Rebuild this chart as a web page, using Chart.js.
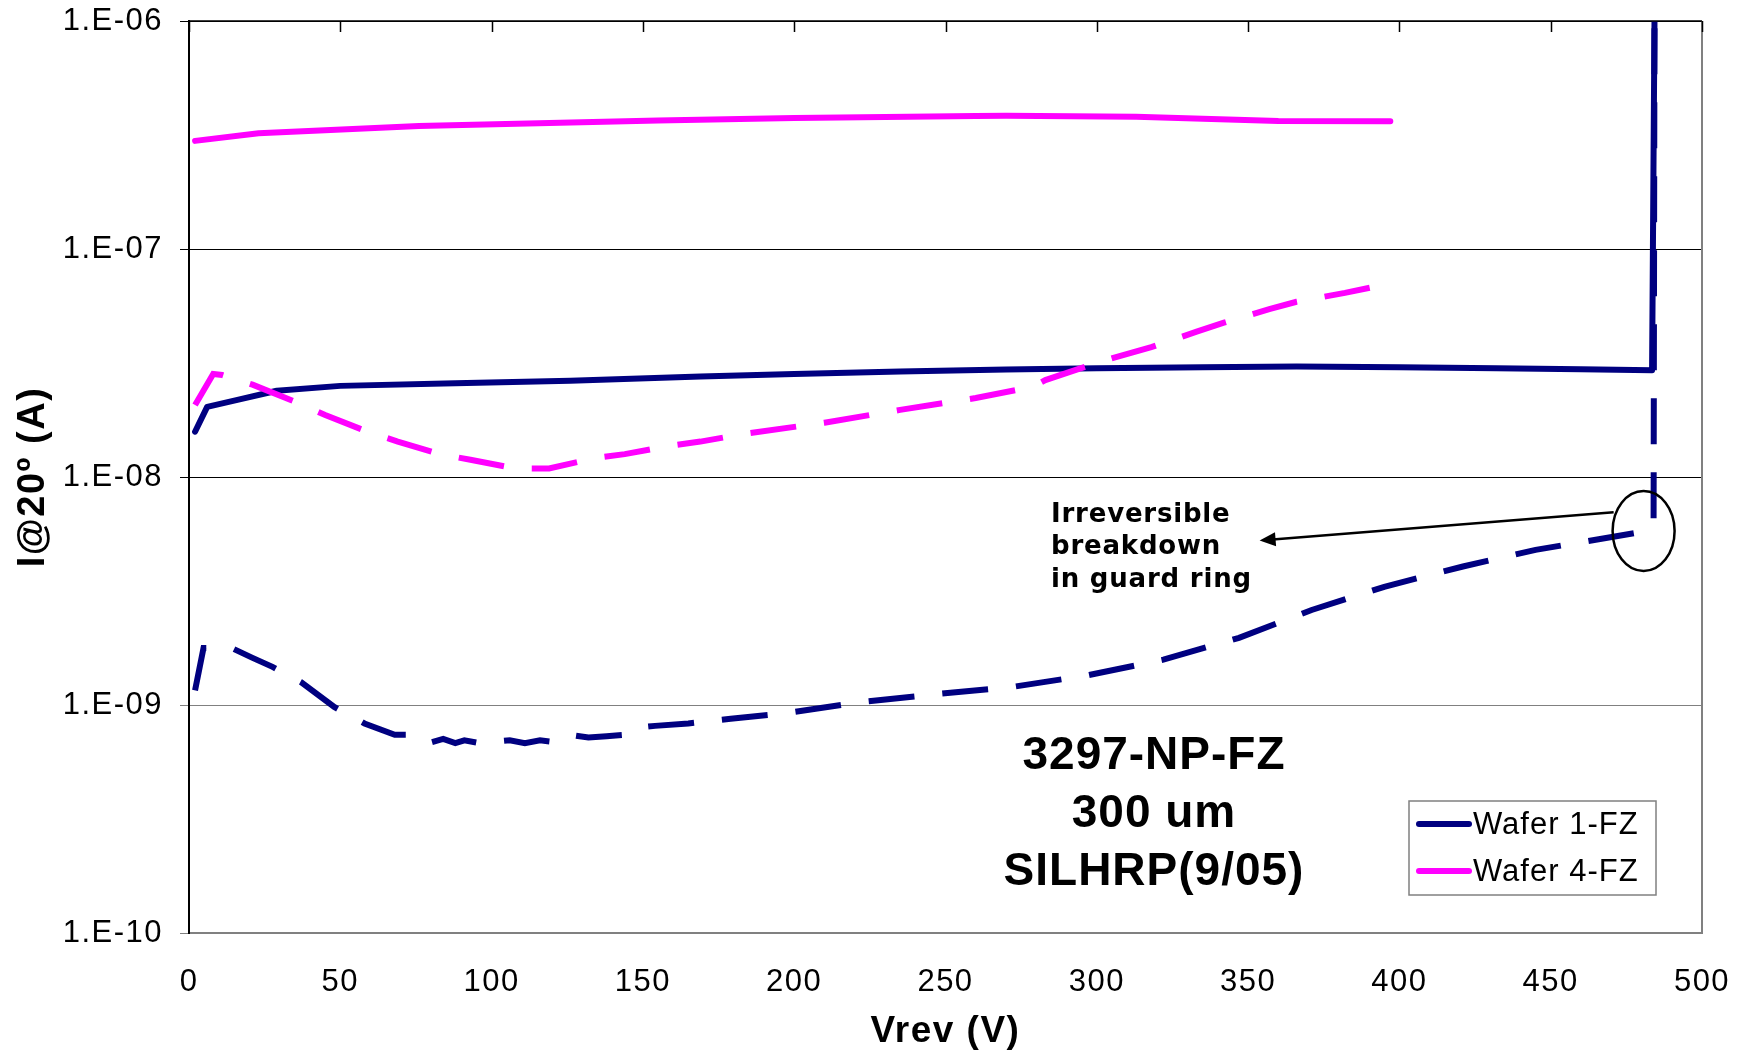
<!DOCTYPE html>
<html>
<head>
<meta charset="utf-8">
<title>3297-NP-FZ IV</title>
<script src="https://cdn.jsdelivr.net/npm/chart.js"></script>
<style>
  html, body { margin: 0; padding: 0; background: #fff; }
  canvas { display: block; }
</style>
</head>
<body>
<canvas id="ivChart" width="1742" height="1054"></canvas>
<script>

// data (V in volts, I in amps)

var wafer1V = [2, 6, 16, 29, 50, 88, 126, 169, 200, 235, 270, 300, 335, 366, 400, 432, 460, 483.5, 484.3];
var wafer1I = [1.58e-8, 2.03e-8, 2.18e-8, 2.39e-8, 2.51e-8, 2.58e-8, 2.64e-8, 2.76e-8, 2.83e-8, 2.9e-8, 2.96e-8, 3.0e-8, 3.03e-8, 3.05e-8, 3.03e-8, 3.0e-8, 2.97e-8, 2.94e-8, 1e-6];

var wafer1GuardV = [2, 4.8, 14, 21, 27.6, 37, 48, 58, 68, 72, 79, 84, 88, 91, 96, 101, 106, 111, 116, 120, 126, 132, 138, 144, 150, 154, 165, 179, 197, 222, 248, 272, 297, 322, 347, 371, 395, 421, 445, 478, 484, 484.3];
var wafer1GuardI = [1.16e-9, 1.78e-9, 1.78e-9, 1.61e-9, 1.47e-9, 1.26e-9, 9.8e-10, 8.3e-10, 7.4e-10, 7.4e-10, 6.8e-10, 7.1e-10, 6.8e-10, 7.0e-10, 6.8e-10, 6.9e-10, 7.0e-10, 6.8e-10, 7.0e-10, 6.9e-10, 7.4e-10, 7.2e-10, 7.3e-10, 7.4e-10, 8.0e-10, 8.1e-10, 8.3e-10, 8.7e-10, 9.2e-10, 1.03e-9, 1.12e-9, 1.2e-9, 1.35e-9, 1.58e-9, 1.97e-9, 2.61e-9, 3.3e-9, 4.05e-9, 4.79e-9, 5.68e-9, 6.2e-9, 1e-6];

var wafer4V = [2, 23, 76, 155, 200, 260, 270, 313, 360, 397];
var wafer4I = [2.98e-7, 3.22e-7, 3.46e-7, 3.66e-7, 3.75e-7, 3.83e-7, 3.84e-7, 3.8e-7, 3.64e-7, 3.63e-7];

var wafer4GuardV = [2, 8, 11, 21, 35, 45, 59, 69, 83, 93, 108, 119, 134, 144, 159, 169, 184, 210, 235, 260, 279, 283, 301, 318, 333, 342, 357, 366, 382, 391, 397];
var wafer4GuardI = [2.07e-8, 2.83e-8, 2.8e-8, 2.54e-8, 2.14e-8, 1.87e-8, 1.58e-8, 1.43e-8, 1.26e-8, 1.19e-8, 1.09e-8, 1.09e-8, 1.21e-8, 1.26e-8, 1.37e-8, 1.43e-8, 1.55e-8, 1.73e-8, 1.97e-8, 2.22e-8, 2.49e-8, 2.66e-8, 3.2e-8, 3.71e-8, 4.34e-8, 4.75e-8, 5.45e-8, 5.87e-8, 6.42e-8, 6.8e-8, 6.93e-8];

var xTickValues = [0, 50, 100, 150, 200, 250, 300, 350, 400, 450, 500];
var yTickValues = [1e-10, 1e-9, 1e-8, 1e-7, 1e-6];
var yTickLabels = ["1.E-10", "1.E-09", "1.E-08", "1.E-07", "1.E-06"];

var legendNames = ["Wafer 1-FZ", "Wafer 4-FZ"];
var sampleText = ["3297-NP-FZ", "300 um", "SILHRP(9/05)"];
var noteText = ["Irreversible", "breakdown", "in guard ring"];

var NAVY = "#000080";
var MAGENTA = "#FF00FF";

function pts(xs, ys) {
  return xs.map(function(x, i) { return {x: x, y: ys[i]}; });
}

// the original's lettering is a bit wider than Arial
var spacing = {
  id: "spacing",
  beforeDraw: function(chart) {
    chart.ctx.letterSpacing = "1.5px";
  }
};

// extras: top/right border, note with arrow and circle, labels, legend
var extras = {
  id: "extras",
  afterDraw: function(chart) {
    var ctx = chart.ctx;
    var a = chart.chartArea;
    var xs = chart.scales.x;
    var ys = chart.scales.y;
    ctx.save();

    // right border
    ctx.strokeStyle = "#808080";
    ctx.lineWidth = 2;
    ctx.beginPath();
    ctx.moveTo(a.right, a.top);
    ctx.lineTo(a.right, a.bottom + 1);
    ctx.stroke();

    // top axis with inward ticks
    ctx.strokeStyle = "#000";
    ctx.lineWidth = 1.5;
    ctx.beginPath();
    ctx.moveTo(a.left, a.top);
    ctx.lineTo(a.right, a.top);
    xTickValues.forEach(function(v) {
      var px = Math.round(xs.getPixelForValue(v)) + 0.5;
      ctx.moveTo(px, a.top);
      ctx.lineTo(px, a.top + 11);
    });
    ctx.stroke();

    // circle round the breakdown point
    var cx = xs.getPixelForValue(480.7);
    var cy = ys.getPixelForValue(5.8e-9);
    ctx.lineWidth = 2.5;
    ctx.beginPath();
    ctx.ellipse(cx, cy, 31, 40, 0, 0, Math.PI * 2);
    ctx.stroke();

    // arrow to the note
    var x0 = xs.getPixelForValue(470.8), y0 = ys.getPixelForValue(7.0e-9);
    var x1 = xs.getPixelForValue(353.8), y1 = ys.getPixelForValue(5.26e-9);
    var ang = Math.atan2(y1 - y0, x1 - x0);
    ctx.lineWidth = 2.5;
    ctx.beginPath();
    ctx.moveTo(x0, y0);
    ctx.lineTo(x1 - 10 * Math.cos(ang), y1 - 10 * Math.sin(ang));
    ctx.stroke();
    ctx.fillStyle = "#000";
    ctx.beginPath();
    ctx.moveTo(x1, y1);
    ctx.lineTo(x1 - 16 * Math.cos(ang) + 7 * Math.sin(ang), y1 - 16 * Math.sin(ang) - 7 * Math.cos(ang));
    ctx.lineTo(x1 - 16 * Math.cos(ang) - 7 * Math.sin(ang), y1 - 16 * Math.sin(ang) + 7 * Math.cos(ang));
    ctx.closePath();
    ctx.fill();

    // note text
    ctx.letterSpacing = "0.8px";
    ctx.font = "bold 26px 'DejaVu Sans'";
    ctx.textAlign = "left";
    ctx.textBaseline = "middle";
    noteText.forEach(function(t, i) {
      ctx.fillText(t, a.left + 862, a.top + 494 + i * 32.5);
    });

    // sample label
    ctx.letterSpacing = "1px";
    ctx.font = "bold 46px 'Liberation Sans'";
    ctx.textAlign = "center";
    ctx.textBaseline = "alphabetic";
    sampleText.forEach(function(t, i) {
      ctx.fillText(t, a.left + 965, a.top + 748 + i * 58);
    });

    // legend box
    var bx = a.left + 1220, by = a.top + 780, bw = 247, bh = 94;
    ctx.fillStyle = "#fff";
    ctx.fillRect(bx, by, bw, bh);
    ctx.strokeStyle = "#808080";
    ctx.lineWidth = 1.5;
    ctx.strokeRect(bx, by, bw, bh);
    var colors = [NAVY, MAGENTA];
    ctx.font = "31px 'Liberation Sans'";
    ctx.textAlign = "left";
    ctx.textBaseline = "middle";
    legendNames.forEach(function(name, i) {
      var ly = by + 23 + i * 47;
      ctx.strokeStyle = colors[i];
      ctx.lineWidth = 6;
      ctx.lineCap = "round";
      ctx.beginPath();
      ctx.moveTo(bx + 10, ly);
      ctx.lineTo(bx + 60, ly);
      ctx.stroke();
      ctx.fillStyle = "#000";
      ctx.fillText(name, bx + 64, ly + 1);
    });

    ctx.restore();
  }
};

new Chart("ivChart", {
  type: "line",
  data: {
    datasets: [
      {
        label: "Wafer 4-FZ",
        data: pts(wafer4V, wafer4I),
        borderColor: MAGENTA,
        borderWidth: 6,
        borderCapStyle: "round",
        borderJoinStyle: "round"
      },
      {
        label: "Wafer 4-FZ guard",
        data: pts(wafer4GuardV, wafer4GuardI),
        borderColor: MAGENTA,
        borderWidth: 6,
        borderDash: [46, 28]
      },
      {
        label: "Wafer 1-FZ",
        data: pts(wafer1V, wafer1I),
        borderColor: NAVY,
        borderWidth: 6,
        borderCapStyle: "round",
        borderJoinStyle: "round"
      },
      {
        label: "Wafer 1-FZ guard",
        data: pts(wafer1GuardV, wafer1GuardI),
        borderColor: NAVY,
        borderWidth: 6,
        borderDash: [46, 28]
      }
    ]
  },
  options: {
    responsive: false,
    animation: false,
    devicePixelRatio: 1,
    elements: {
      point: { radius: 0 },
      line: { tension: 0, fill: false }
    },
    layout: { padding: { top: 21, right: 40, left: 0, bottom: 0 } },
    plugins: {
      legend: { display: false },
      tooltip: { enabled: false }
    },
    scales: {
      x: {
        type: "linear",
        min: 0,
        max: 500,
        afterBuildTicks: function(scale) {
          scale.ticks = xTickValues.map(function(v) { return {value: v}; });
        },
        afterFit: function(scale) {
          scale.height = 121;
          scale.paddingLeft = 0;
          scale.paddingRight = 0;
        },
        grid: { display: false, drawTicks: false },
        border: { display: true, color: "#808080", width: 2 },
        ticks: {
          padding: 31,
          color: "#000",
          font: { family: "'Liberation Sans'", size: 31 }
        },
        title: {
          display: true,
          text: "Vrev (V)",
          color: "#000",
          padding: { top: 0, bottom: 0 },
          font: { family: "'Liberation Sans'", size: 37, weight: "bold" }
        }
      },
      y: {
        type: "logarithmic",
        min: 1e-10,
        max: 1e-6,
        afterBuildTicks: function(scale) {
          scale.ticks = yTickValues.map(function(v) { return {value: v}; });
        },
        afterFit: function(scale) {
          scale.width = 189;
          scale.paddingTop = 0;
          scale.paddingBottom = 0;
        },
        grid: {
          display: true,
          drawTicks: true,
          tickLength: 9,
          lineWidth: 1,
          color: function(c) {
            return (c.tick && c.tick.value < 5e-9) ? "#808080" : "#000";
          }
        },
        border: { display: true, color: "#000", width: 2 },
        ticks: {
          padding: 17,
          color: "#000",
          font: { family: "'Liberation Sans'", size: 31 },
          callback: function(value, index) { return yTickLabels[index]; }
        },
        title: {
          display: true,
          text: "I@20º (A)",
          color: "#000",
          padding: { top: 11, bottom: 0 },
          font: { family: "'Liberation Sans'", size: 38, weight: "bold" }
        }
      }
    }
  },
  plugins: [spacing, extras]
});

</script>
